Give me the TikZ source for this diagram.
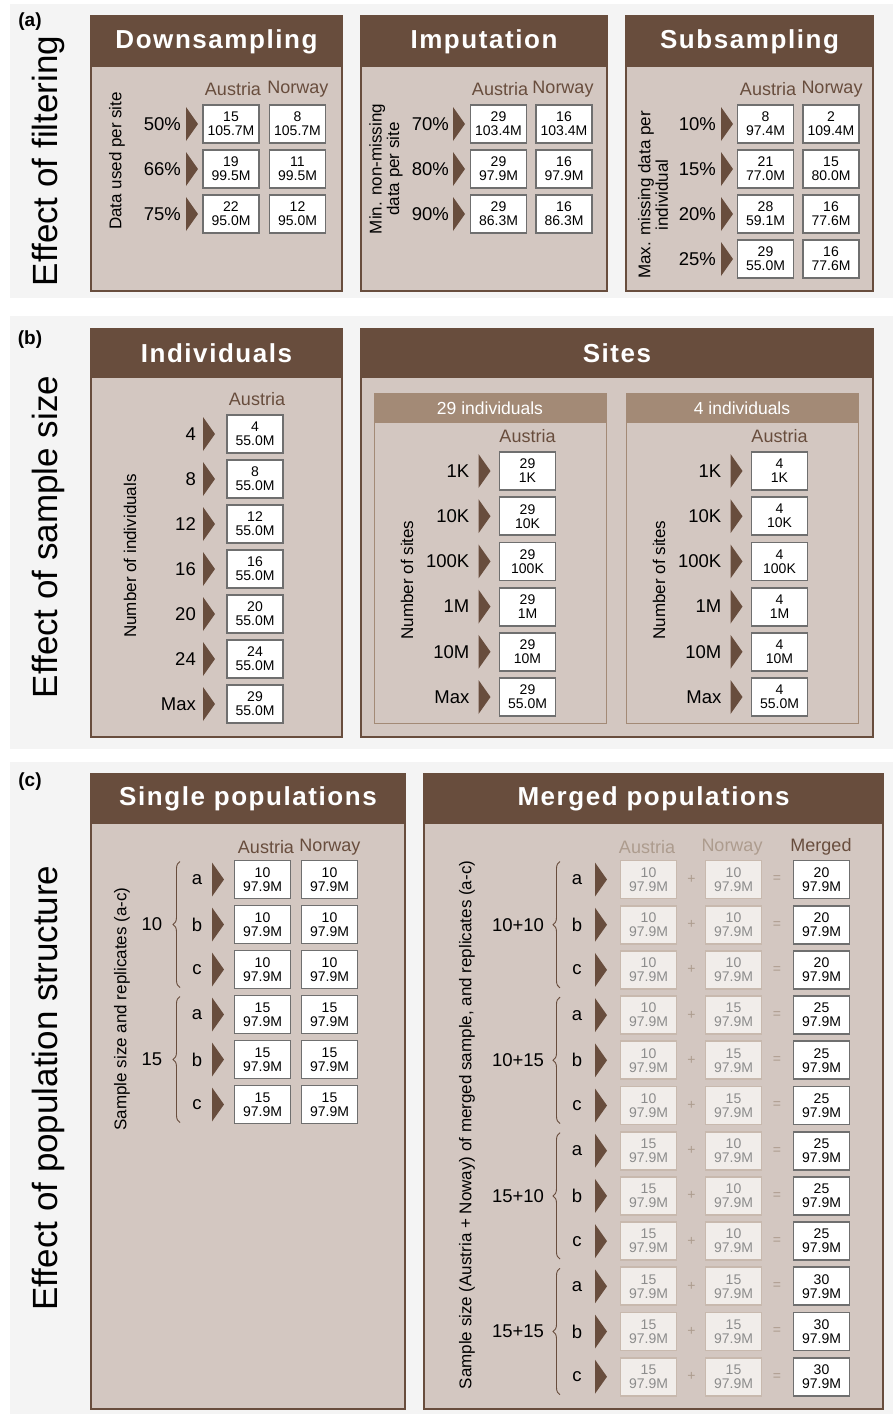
\documentclass[tikz,border=0pt]{standalone}
\usepackage{fontspec}
\setmainfont{Liberation Sans}
\newfontfamily\headfont{Liberation Sans}[LetterSpace=6]
\usetikzlibrary{decorations.pathreplacing}
\definecolor{head-brown}{HTML}{684D3D}
\definecolor{body-tan}{HTML}{D3C7C1}
\definecolor{sub-tan}{HTML}{A38A76}
\definecolor{band-grey}{HTML}{F4F4F4}
\definecolor{cell-line}{HTML}{6F6F6F}
\definecolor{ghost-fill}{HTML}{F1EDEA}
\definecolor{ghost-line}{HTML}{C8B9AE}
\definecolor{ghost-text}{HTML}{8C8C8C}
\definecolor{ghost-label}{HTML}{AD9C8E}

\begin{document}
\begin{tikzpicture}[x=1pt, y=-1pt,
    panel/.style={fill=body-tan, draw=head-brown, line width=1.2pt},
    head/.style={fill=head-brown},
    subpanel/.style={fill=body-tan, draw=sub-tan, line width=1pt},
    headtitle/.style={text=white, font=\headfont\bfseries\fontsize{26}{26}\selectfont},
    subtitle/.style={text=white, font=\fontsize{17.5}{18}\selectfont},
    country/.style={text=head-brown, font=\fontsize{18}{18}\selectfont},
    lvl/.style={anchor=east, inner sep=0pt, font=\fontsize{18.5}{19}\selectfont},
    rep/.style={font=\fontsize{18.5}{19}\selectfont},
    axislabel/.style={rotate=90, align=center, font=\fontsize{17}{17.5}\selectfont},
    cell/.style={draw=cell-line, fill=white, line width=1.8pt, minimum width=56pt,
                 minimum height=38pt, inner sep=0pt, align=center,
                 font=\fontsize{14}{14}\selectfont},
    ghost/.style={cell, draw=ghost-line, fill=ghost-fill, text=ghost-text},
    sign/.style={text=ghost-label, font=\fontsize{14}{14}\selectfont},
    chev/.style={fill=head-brown},
    bracket/.style={draw=head-brown, line width=0.9pt, decorate,
                    decoration={brace, amplitude=7pt}},
    effect/.style={rotate=90, font=\fontsize{35}{35}\selectfont},
    tag/.style={font=\bfseries\fontsize{19}{19}\selectfont}]
  \useasboundingbox (0,0) rectangle (893,1414);

  \fill[band-grey] (10,4) rectangle (893,298);
  \fill[band-grey] (10,316) rectangle (893,749);
  \fill[band-grey] (10,762) rectangle (893,1414);

  % (a) filtering
  \node[tag] (tag-a) at (30,22) {(a)};
  \node[effect] (eff-a) at (48,161) {Effect of filtering};

  \draw[panel] (91,16) rectangle (342,291);
  \fill[head] (91,16) rectangle (342,67);
  \node[headtitle] (down) at (216.5,41.5) {Downsampling};
  \node[country] (down-at) at (233,89) {Austria};
  \node[country] (down-no) at (298,89) {Norway};
  \node[axislabel] (down-ax) at (117,161) {Data used per site};
  \foreach \y/\p/\a/\n/\m [count=\i] in {124/50/15/8/105.7M, 169/66/19/11/99.5M, 214/75/22/12/95.0M} {
    \node[lvl] (down-l\i) at (181,\y) {\p\%};
    \fill[chev] (186,\y) ++(0,-17) -- ++(12,17) -- ++(-12,17) -- cycle;
    \node[cell] (down-a\i) at (231,\y) {\a\\\m};
    \node[cell] (down-n\i) at (297.5,\y) {\n\\\m};
  }

  \draw[panel] (361,16) rectangle (607,291);
  \fill[head] (361,16) rectangle (607,67);
  \node[headtitle] (imp) at (484,41.5) {Imputation};
  \node[country] (imp-at) at (500,89) {Austria};
  \node[country] (imp-no) at (563,89) {Norway};
  \node[axislabel] (imp-ax) at (386,169) {Min. non-missing\\data per site};
  \foreach \y/\p/\a/\n/\m [count=\i] in {124/70/29/16/103.4M, 169/80/29/16/97.9M, 214/90/29/16/86.3M} {
    \node[lvl] (imp-l\i) at (449,\y) {\p\%};
    \fill[chev] (453,\y) ++(0,-17) -- ++(12,17) -- ++(-12,17) -- cycle;
    \node[cell] (imp-a\i) at (498.5,\y) {\a\\\m};
    \node[cell] (imp-n\i) at (564,\y) {\n\\\m};
  }

  \draw[panel] (626,16) rectangle (873,291);
  \fill[head] (626,16) rectangle (873,67);
  \node[headtitle] (sub) at (749.5,41.5) {Subsampling};
  \node[country] (sub-at) at (768,89) {Austria};
  \node[country] (sub-no) at (832,89) {Norway};
  \node[axislabel] (sub-ax) at (653,195) {Max. missing data per\\individual};
  \foreach \y/\p/\a/\u/\n/\v [count=\i] in {124/10/8/97.4M/2/109.4M, 169/15/21/77.0M/15/80.0M,
      214/20/28/59.1M/16/77.6M, 259/25/29/55.0M/16/77.6M} {
    \node[lvl] (sub-l\i) at (716,\y) {\p\%};
    \fill[chev] (721,\y) ++(0,-17) -- ++(12,17) -- ++(-12,17) -- cycle;
    \node[cell] (sub-a\i) at (765.5,\y) {\a\\\u};
    \node[cell] (sub-n\i) at (831,\y) {\n\\\v};
  }

  % (b) sample size
  \node[tag] (tag-b) at (30,340) {(b)};
  \node[effect] (eff-b) at (48,537) {Effect of sample size};

  \draw[panel] (91,329) rectangle (342,737);
  \fill[head] (91,329) rectangle (342,378);
  \node[headtitle] (ind) at (216.5,353.5) {Individuals};
  \node[country] (ind-at) at (257,399) {Austria};
  \node[axislabel] (ind-ax) at (130,556) {Number of individuals};
  \foreach \t/\a [count=\i from 0] in {4/4, 8/8, 12/12, 16/16, 20/20, 24/24, Max/29} {
    \node[lvl] (ind-l\i) at (196,{434+45*\i}) {\t};
    \fill[chev] (203,{434+45*\i}) ++(0,-17) -- ++(12,17) -- ++(-12,17) -- cycle;
    \node[cell] (ind-a\i) at (255,{434+45*\i}) {\a\\55.0M};
  }

  \draw[panel] (361,329) rectangle (873,737);
  \fill[head] (361,329) rectangle (873,378);
  \node[headtitle] (sites) at (617,353.5) {Sites};
  \foreach \x/\n/\s in {374/29/sa, 626/4/sb} {
    \draw[subpanel] (\x,393) rectangle ({\x+232},723);
    \fill[sub-tan] (\x,393) rectangle ({\x+232},423);
    \node[subtitle] (\s) at ({\x+116},408) {\n\ individuals};
    \node[country] (\s-at) at ({\x+153.5},436) {Austria};
    \node[axislabel] (\s-ax) at ({\x+33},580) {Number of sites};
    \foreach \t/\b [count=\i from 0] in {1K/1K, 10K/10K, 100K/100K, 1M/1M, 10M/10M, Max/55.0M} {
      \node[lvl] (\s-l\i) at ({\x+95.5},{471+45.2*\i}) {\t};
      \fill[chev] ({\x+104.5},{471+45.2*\i}) ++(0,-17) -- ++(12,17) -- ++(-12,17) -- cycle;
      \node[cell] (\s-a\i) at ({\x+153.5},{471+45.2*\i}) {\n\\\b};
    }
  }

  % (c) population structure
  \node[tag] (tag-c) at (30,782) {(c)};
  \node[effect] (eff-c) at (48,1088) {Effect of population structure};

  \draw[panel] (91,774) rectangle (405,1409);
  \fill[head] (91,774) rectangle (405,824);
  \node[headtitle] (single) at (248,799) {Single populations};
  \node[country] (single-at) at (266,847) {Austria};
  \node[country] (single-no) at (330,847) {Norway};
  \node[axislabel] (single-ax) at (122,1009) {Sample size and replicates (a-c)};
  \foreach \g [count=\j from 0] in {10, 15} {
    \node[rep] (single-g\j) at (152,{879.5+45*(3*\j+1)}) {\g};
    \draw[bracket] (180,{879.5+45*(3*\j+2)+18}) -- (180,{879.5+45*3*\j-18});
    \foreach \r [count=\i from 0] in {a, b, c} {
      \node[rep] (single-r\j\i) at (197,{879.5+45*(3*\j+\i)}) {\r};
      \fill[chev] (212,{879.5+45*(3*\j+\i)}) ++(0,-17) -- ++(12,17) -- ++(-12,17) -- cycle;
      \node[cell] (single-a\j\i) at (262.5,{879.5+45*(3*\j+\i)}) {\g\\97.9M};
      \node[cell] (single-n\j\i) at (329.5,{879.5+45*(3*\j+\i)}) {\g\\97.9M};
    }
  }

  \draw[panel] (424,774) rectangle (883,1409);
  \fill[head] (424,774) rectangle (883,824);
  \node[headtitle] (merged) at (653.5,799) {Merged populations};
  \node[country, text=ghost-label] (merged-at) at (647,847) {Austria};
  \node[country, text=ghost-label] (merged-no) at (732,847) {Norway};
  \node[country] (merged-mg) at (821,847) {Merged};
  \node[axislabel] (merged-ax) at (467,1125) {Sample size (Austria + Noway) of merged sample, and replicates (a-c)};
  \foreach \g/\u/\v/\w [count=\j from 0] in {10+10/10/10/20, 10+15/10/15/25, 15+10/15/10/25, 15+15/15/15/30} {
    \node[rep] (merged-g\j) at (518,{879.5+45.2*(3*\j+1)}) {\g};
    \draw[bracket] (560,{879.5+45.2*(3*\j+2)+18}) -- (560,{879.5+45.2*3*\j-18});
    \foreach \r [count=\i from 0] in {a, b, c} {
      \node[rep] (merged-r\j\i) at (577,{879.5+45.2*(3*\j+\i)}) {\r};
      \fill[chev] (595,{879.5+45.2*(3*\j+\i)}) ++(0,-17) -- ++(12,17) -- ++(-12,17) -- cycle;
      \node[ghost] (merged-a\j\i) at (648.5,{879.5+45.2*(3*\j+\i)}) {\u\\97.9M};
      \node[sign] (merged-p\j\i) at (691.5,{879.5+45.2*(3*\j+\i)}) {+};
      \node[ghost] (merged-n\j\i) at (733.5,{879.5+45.2*(3*\j+\i)}) {\v\\97.9M};
      \node[sign] (merged-e\j\i) at (777,{879.5+45.2*(3*\j+\i)}) {=};
      \node[cell] (merged-m\j\i) at (821.5,{879.5+45.2*(3*\j+\i)}) {\w\\97.9M};
    }
  }
\end{tikzpicture}
\end{document}
